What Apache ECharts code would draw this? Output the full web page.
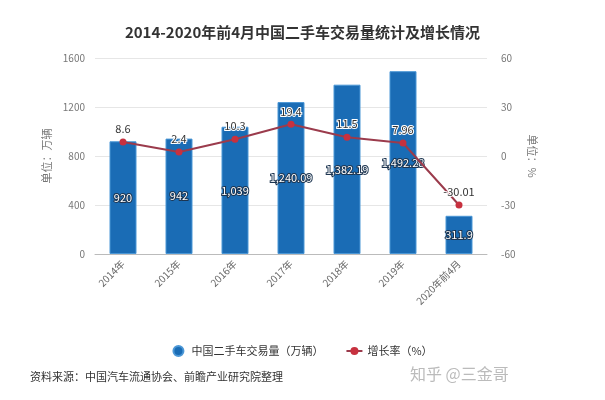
<!DOCTYPE html>
<html><head><meta charset="utf-8">
<script src="https://cdn.jsdelivr.net/npm/echarts@6/dist/echarts.min.js"></script>
<style>html,body{margin:0;padding:0;background:#fff}#c{width:605px;height:400px}</style>
</head><body><div id="c"></div>
<script>
const categories = ['2014年','2015年','2016年','2017年','2018年','2019年','2020年前4月'];
const volume = [920, 942, 1039, 1240.09, 1382.19, 1492.28, 311.9];
const growth = [8.6, 2.4, 10.3, 19.4, 11.5, 7.96, -30.01];
const leftTicks = {min: 0, max: 1600, interval: 400};
const rightTicks = {min: -60, max: 60, interval: 30};
const titleText = '2014-2020年前4月中国二手车交易量统计及增长情况';
const volName = '中国二手车交易量（万辆）';
const growthName = '增长率（%）';

const fmtNum = v => {
  const s = String(v).split('.');
  s[0] = s[0].replace(/\B(?=(\d{3})+(?!\d))/g, ',');
  return s.join('.');
};
const chart = echarts.init(document.getElementById('c'));
const ff = '"Noto Sans CJK SC", "Noto Sans", sans-serif';
chart.setOption({
  animation: false,
  textStyle: {fontFamily: ff},
  title: {text: titleText, left: 'center', top: 20,
    textStyle: {fontSize: 15, fontWeight: 'bold', color: '#333', fontFamily: ff}},
  grid: {left: 95, right: 118, top: 58, bottom: 146},
  legend: {
    bottom: 38, left: 'center', itemGap: 22, itemWidth: 16, itemHeight: 10,
    textStyle: {fontSize: 11, color: '#333'},
    data: [{name: volName, icon: 'circle'}, {name: growthName}]
  },
  xAxis: {
    type: 'category', data: categories,
    axisLine: {lineStyle: {color: '#bbb'}},
    axisTick: {alignWithLabel: true, lineStyle: {color: '#bbb'}},
    axisLabel: {rotate: 45, fontSize: 10, color: '#666', margin: 8, interval: 0}
  },
  yAxis: [{
    type: 'value', ...leftTicks,
    name: '单位：万辆', nameLocation: 'middle', nameGap: 42, nameRotate: 90,
    nameTextStyle: {color: '#777', fontSize: 11},
    axisLine: {show: false}, axisTick: {show: false},
    axisLabel: {color: '#777', fontSize: 10, margin: 10, formatter: v => String(v)},
    splitLine: {lineStyle: {color: '#e6e6e6'}}
  }, {
    type: 'value', ...rightTicks,
    name: '单位：%', nameLocation: 'middle', nameGap: 34, nameRotate: -90,
    nameTextStyle: {color: '#777', fontSize: 11},
    axisLine: {show: false}, axisTick: {show: false},
    axisLabel: {color: '#777', fontSize: 10, margin: 14},
    splitLine: {show: false}
  }],
  series: [{
    name: volName, type: 'bar', data: volume, barWidth: 27,
    itemStyle: {color: '#1a6cb5', borderColor: '#4b97d6', borderWidth: 1},
    label: {show: true, position: 'inside', fontSize: 11, color: '#fff',
      textBorderColor: '#1d3550', textBorderWidth: 2,
      formatter: p => fmtNum(p.value)}
  }, {
    name: growthName, type: 'line', yAxisIndex: 1, data: growth,
    symbol: 'circle', symbolSize: 7,
    lineStyle: {color: '#9b3b4c', width: 2},
    itemStyle: {color: '#c7313f'},
    label: {show: true, position: 'top', fontSize: 11, color: '#333',
      textBorderColor: '#fff', textBorderWidth: 2, distance: 4}
  }],
  graphic: [{
    type: 'text', left: 30, top: 371,
    style: {text: '资料来源：中国汽车流通协会、前瞻产业研究院整理', fontSize: 11, fill: '#333', fontFamily: ff}
  }, {
    type: 'text', left: 410, top: 366,
    style: {text: '知乎 @三金哥', fontSize: 16, fill: '#bbb', fontFamily: ff}
  }]
});
</script></body></html>
